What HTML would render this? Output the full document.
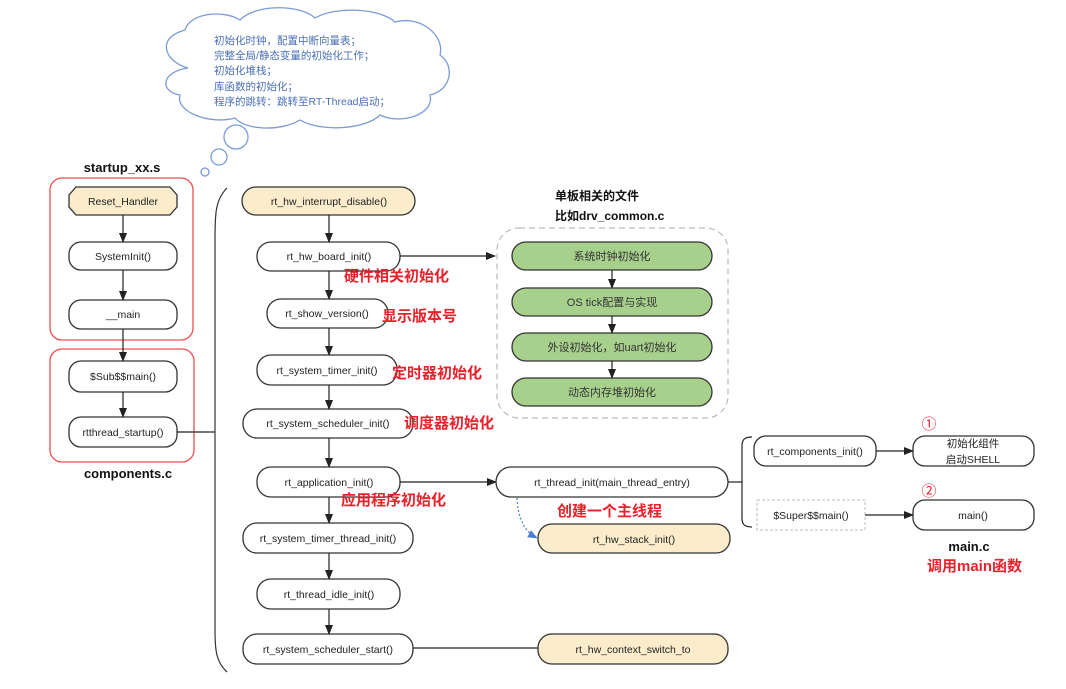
<!DOCTYPE html>
<html><head><meta charset="utf-8"><style>
html,body{margin:0;padding:0;background:#fff;}
svg text{font-family:"Liberation Sans","Noto Sans CJK SC",sans-serif;}
</style></head><body>
<svg width="1066" height="684" viewBox="0 0 1066 684" xmlns="http://www.w3.org/2000/svg">
<defs>
<marker id="ar" markerWidth="10" markerHeight="8" refX="9" refY="4" orient="auto" markerUnits="userSpaceOnUse"><path d="M0,0 L10,4 L0,8 Z" fill="#222"/></marker>
<marker id="ab" markerWidth="10" markerHeight="8" refX="9" refY="4" orient="auto" markerUnits="userSpaceOnUse"><path d="M0,0 L10,4 L0,8 Z" fill="#4a7fd4"/></marker>
</defs>
<!-- cloud -->
<path d="M188,68 C165,62 155,38 185,30 C190,12 225,10 240,20 C255,4 300,4 315,18 C335,6 380,8 395,22 C420,15 445,35 440,55 C455,65 452,90 430,95 C435,115 400,125 380,115 C365,130 320,132 300,120 C280,132 245,130 235,118 C210,125 175,112 180,95 C160,92 160,72 188,68 Z" fill="#fff" stroke="#7a9bd6" stroke-width="1.3"/>
<circle cx="236" cy="137" r="12" fill="#fff" stroke="#7a9bd6" stroke-width="1.3"/>
<circle cx="219" cy="157" r="8" fill="#fff" stroke="#7a9bd6" stroke-width="1.3"/>
<circle cx="205" cy="172" r="4" fill="#fff" stroke="#7a9bd6" stroke-width="1.3"/>
<g fill="#4a6fb5" font-size="10.5">
<text x="214" y="44">初始化时钟，配置中断向量表；</text>
<text x="214" y="59">完整全局/静态变量的初始化工作；</text>
<text x="214" y="74">初始化堆栈；</text>
<text x="214" y="90">库函数的初始化；</text>
<text x="214" y="105">程序的跳转：跳转至RT-Thread启动；</text>
</g>
<!-- left -->
<text x="122" y="172" font-size="13" font-weight="bold" text-anchor="middle" fill="#111">startup_xx.s</text>
<rect x="50" y="178" width="143" height="162" rx="12" fill="none" stroke="#f05050" stroke-width="1.3"/>
<rect x="50" y="349" width="144" height="113" rx="12" fill="none" stroke="#f05050" stroke-width="1.3"/>
<text x="128" y="478" font-size="13" font-weight="bold" text-anchor="middle" fill="#111">components.c</text>
<g stroke="#333" stroke-width="1.3">
<path d="M76,187 L170,187 L177,195 L177,207 L170,215 L76,215 L69,207 L69,195 Z" fill="#fbeccb"/>
<rect x="69" y="242" width="108" height="28" rx="12" fill="#fff"/>
<rect x="69" y="300" width="108" height="29" rx="12" fill="#fff"/>
<rect x="69" y="361" width="108" height="31" rx="12" fill="#fff"/>
<rect x="69" y="417" width="108" height="30" rx="12" fill="#fff"/>
</g>
<g stroke="#222" stroke-width="1.2" fill="none">
<line x1="123" y1="215" x2="123" y2="242" marker-end="url(#ar)"/>
<line x1="123" y1="270" x2="123" y2="300" marker-end="url(#ar)"/>
<line x1="123" y1="329" x2="123" y2="361" marker-end="url(#ar)"/>
<line x1="123" y1="392" x2="123" y2="417" marker-end="url(#ar)"/>
<line x1="177" y1="432" x2="215" y2="432"/>
<path d="M227,188 C215,200 215,215 215,240 L215,630 C215,650 216,662 227,672" stroke="#333"/>
</g>
<g font-size="10.5" text-anchor="middle" fill="#222">
<text x="123" y="205">Reset_Handler</text>
<text x="123" y="260">SystemInit()</text>
<text x="123" y="318">__main</text>
<text x="123" y="380">$Sub$$main()</text>
<text x="123" y="436">rtthread_startup()</text>
</g>
<!-- center column -->
<g stroke="#333" stroke-width="1.3">
<rect x="242" y="187" width="173" height="28" rx="14" fill="#fbeccb"/>
<rect x="257" y="242" width="143" height="29" rx="14" fill="#fff"/>
<rect x="267" y="299" width="121" height="29" rx="14" fill="#fff"/>
<rect x="257" y="355" width="140" height="30" rx="14" fill="#fff"/>
<rect x="243" y="409" width="170" height="29" rx="14" fill="#fff"/>
<rect x="257" y="467" width="143" height="30" rx="14" fill="#fff"/>
<rect x="243" y="523" width="170" height="30" rx="14" fill="#fff"/>
<rect x="257" y="579" width="143" height="30" rx="14" fill="#fff"/>
<rect x="243" y="634" width="170" height="30" rx="14" fill="#fff"/>
</g>
<g stroke="#222" stroke-width="1.2" fill="none">
<line x1="329" y1="215" x2="329" y2="242" marker-end="url(#ar)"/>
<line x1="329" y1="271" x2="329" y2="299" marker-end="url(#ar)"/>
<line x1="329" y1="328" x2="329" y2="355" marker-end="url(#ar)"/>
<line x1="329" y1="385" x2="329" y2="409" marker-end="url(#ar)"/>
<line x1="329" y1="438" x2="329" y2="467" marker-end="url(#ar)"/>
<line x1="329" y1="497" x2="329" y2="523" marker-end="url(#ar)"/>
<line x1="329" y1="553" x2="329" y2="579" marker-end="url(#ar)"/>
<line x1="329" y1="609" x2="329" y2="634" marker-end="url(#ar)"/>
<line x1="400" y1="256" x2="495" y2="256" marker-end="url(#ar)"/>
<line x1="400" y1="482" x2="496" y2="482" marker-end="url(#ar)"/>
<line x1="413" y1="648" x2="538" y2="648"/>
</g>
<g font-size="10.5" text-anchor="middle" fill="#222">
<text x="329" y="205">rt_hw_interrupt_disable()</text>
<text x="329" y="260">rt_hw_board_init()</text>
<text x="327" y="317">rt_show_version()</text>
<text x="327" y="374">rt_system_timer_init()</text>
<text x="328" y="427">rt_system_scheduler_init()</text>
<text x="329" y="486">rt_application_init()</text>
<text x="328" y="542">rt_system_timer_thread_init()</text>
<text x="329" y="598">rt_thread_idle_init()</text>
<text x="328" y="653">rt_system_scheduler_start()</text>
</g>
<g font-size="15" font-weight="bold" fill="#e8212b">
<text x="344" y="281">硬件相关初始化</text>
<text x="382" y="321">显示版本号</text>
<text x="392" y="378">定时器初始化</text>
<text x="404" y="428">调度器初始化</text>
<text x="341" y="505">应用程序初始化</text>
<text x="557" y="516">创建一个主线程</text>
<text x="927" y="571">调用main函数</text>
</g>
<!-- right group -->
<g font-size="12" font-weight="bold" fill="#111">
<text x="555" y="200">单板相关的文件</text>
<text x="555" y="220">比如drv_common.c</text>
</g>
<rect x="497" y="228" width="231" height="190" rx="22" fill="none" stroke="#bbb" stroke-width="1.2" stroke-dasharray="6,4"/>
<g stroke="#333" stroke-width="1.3" fill="#a8d08d">
<rect x="512" y="242" width="200" height="28" rx="14"/>
<rect x="512" y="288" width="200" height="28" rx="14"/>
<rect x="512" y="333" width="200" height="28" rx="14"/>
<rect x="512" y="378" width="200" height="28" rx="14"/>
</g>
<g stroke="#222" stroke-width="1.2">
<line x1="612" y1="270" x2="612" y2="288" marker-end="url(#ar)"/>
<line x1="612" y1="316" x2="612" y2="333" marker-end="url(#ar)"/>
<line x1="612" y1="361" x2="612" y2="378" marker-end="url(#ar)"/>
</g>
<g font-size="11" text-anchor="middle" fill="#333">
<text x="612" y="260">系统时钟初始化</text>
<text x="612" y="306">OS tick配置与实现</text>
<text x="612" y="351">外设初始化，如uart初始化</text>
<text x="612" y="396">动态内存堆初始化</text>
</g>
<!-- thread init -->
<g stroke="#333" stroke-width="1.3">
<rect x="496" y="467" width="232" height="30" rx="15" fill="#fff"/>
<rect x="538" y="524" width="192" height="29" rx="14" fill="#fbeccb"/>
<rect x="538" y="634" width="190" height="30" rx="14" fill="#fbeccb"/>
<rect x="754" y="436" width="122" height="30" rx="12" fill="#fff"/>
<rect x="913" y="436" width="121" height="30" rx="12" fill="#fff"/>
<rect x="913" y="500" width="121" height="30" rx="12" fill="#fff"/>
</g>
<rect x="757" y="500" width="108" height="30" fill="#fff" stroke="#bbb" stroke-dasharray="3,2"/>
<path d="M517,498 C518,515 522,530 537,538" fill="none" stroke="#4a7fd4" stroke-width="1.2" stroke-dasharray="2,2" marker-end="url(#ab)"/>
<g stroke="#222" stroke-width="1.2" fill="none">
<line x1="728" y1="482" x2="742" y2="482"/>
<path d="M752,437 C744,437 742,440 742,446 L742,518 C742,524 744,527 752,527"/>
<line x1="876" y1="451" x2="913" y2="451" marker-end="url(#ar)"/>
<line x1="865" y1="515" x2="913" y2="515" marker-end="url(#ar)"/>
</g>
<g font-size="10.5" text-anchor="middle" fill="#222">
<text x="612" y="486">rt_thread_init(main_thread_entry)</text>
<text x="634" y="543">rt_hw_stack_init()</text>
<text x="633" y="653">rt_hw_context_switch_to</text>
<text x="815" y="455">rt_components_init()</text>
<text x="973" y="447">初始化组件</text>
<text x="973" y="463">启动SHELL</text>
<text x="811" y="519">$Super$$main()</text>
<text x="973" y="519">main()</text>
</g>
<g font-size="15" fill="#e8212b" text-anchor="middle">
<text x="929" y="429">①</text>
<text x="929" y="496">②</text>
</g>
<text x="969" y="551" font-size="13" font-weight="bold" text-anchor="middle" fill="#111">main.c</text>
</svg>
</body></html>
